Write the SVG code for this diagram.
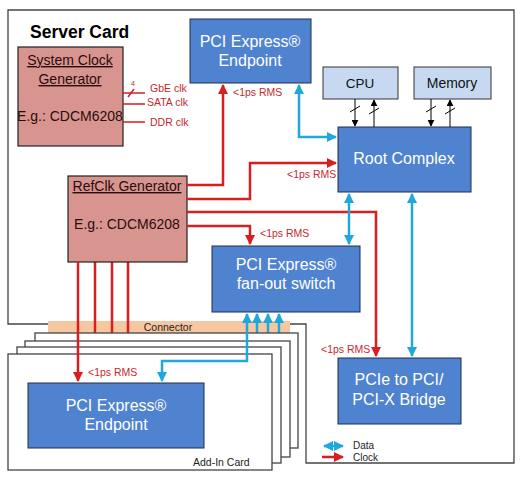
<svg xmlns="http://www.w3.org/2000/svg" width="532" height="482" viewBox="0 0 532 482">
<defs>
<marker id="ar" viewBox="0 0 10 10" refX="9" refY="5" markerWidth="4.4" markerHeight="4" orient="auto-start-reverse" markerUnits="strokeWidth"><path d="M0,0 L10,5 L0,10 z" fill="#d81e1e"/></marker>
<marker id="ab" viewBox="0 0 10 10" refX="9" refY="5" markerWidth="4.4" markerHeight="4" orient="auto-start-reverse" markerUnits="strokeWidth"><path d="M0,0 L10,5 L0,10 z" fill="#1ea8dc"/></marker>
<marker id="ak" viewBox="0 0 10 10" refX="9" refY="5" markerWidth="7" markerHeight="7" orient="auto-start-reverse" markerUnits="strokeWidth"><path d="M0,0 L10,5 L0,10 z" fill="#000"/></marker>
</defs>
<style>
text{font-family:"Liberation Sans",Arial,sans-serif}
.card{fill:#fff;stroke:#444;stroke-width:1.3}
.blue{fill:#4f83cf;stroke:#1f2f4a;stroke-width:1}
.lb{fill:#c6d9f1;stroke:#333;stroke-width:1}
.pink{fill:#d8958f;stroke:#222;stroke-width:1.2}
.wt{fill:#fff;font-size:16px;text-anchor:middle}
.pt{fill:#2a0c0c;font-size:14px;text-anchor:middle}
.rl{fill:#c8282d;font-size:10.5px}
.red{fill:none;stroke:#d81e1e;stroke-width:2.5}
.bl{fill:none;stroke:#1ea8dc;stroke-width:2.5}
.thin{fill:none;stroke:#000;stroke-width:1}
.rthin{fill:none;stroke:#d81e1e;stroke-width:1.5}
</style>
<rect width="532" height="482" fill="#fff"/>
<g id="server-card">
<path class="card" d="M8,10 H514 V463 H306 V324 H8 Z"/>
<text x="30" y="38" font-size="17.5" font-weight="bold" fill="#000">Server Card</text>
</g>
<g id="connector">
<rect x="48" y="321" width="242" height="12" fill="#f6c7a0"/>
<text x="168" y="331" font-size="10.5" fill="#222" text-anchor="middle">Connector</text>
</g>
<g id="connectors-under">
<line class="red" x1="128" y1="262" x2="128" y2="341"/>
<line class="red" x1="112" y1="262" x2="112" y2="347"/>
<line class="red" x1="95" y1="262" x2="95" y2="354"/>
<line class="bl" x1="279" y1="341" x2="279" y2="314" marker-end="url(#ab)"/>
<line class="bl" x1="268" y1="347" x2="268" y2="314" marker-end="url(#ab)"/>
<line class="bl" x1="257" y1="354" x2="257" y2="314" marker-end="url(#ab)"/>
</g>
<g id="add-in-cards">
<rect class="card" x="35" y="333" width="263" height="115"/>
<rect class="card" x="25" y="341" width="265" height="116"/>
<rect class="card" x="17" y="347" width="264" height="116"/>
<rect class="card" x="8" y="354" width="264" height="116"/>
<text x="193" y="466" font-size="10.5" fill="#222">Add-In Card</text>
</g>
<g id="sys-clk">
<rect class="pink" x="18" y="47" width="105" height="99"/>
<text class="pt" x="70" y="65" text-decoration="underline">System Clock</text>
<text class="pt" x="70" y="84" text-decoration="underline">Generator</text>
<text class="pt" x="70" y="121" font-size="12">E.g.: CDCM6208</text>
</g>
<g id="refclk">
<rect class="pink" x="68" y="176" width="119" height="86"/>
<text class="pt" x="127" y="191" text-decoration="underline">RefClk Generator</text>
<text class="pt" x="127" y="229" font-size="12">E.g.: CDCM6208</text>
</g>
<g id="endpoint-top">
<rect class="blue" x="190" y="19" width="121" height="64"/>
<text class="wt" x="250" y="47">PCI Express®</text>
<text class="wt" x="250" y="66">Endpoint</text>
</g>
<g id="cpu">
<rect class="lb" x="323" y="67" width="75" height="32"/>
<text x="360" y="88" font-size="13.5" text-anchor="middle" fill="#111">CPU</text>
</g>
<g id="memory">
<rect class="lb" x="414" y="67" width="77" height="32"/>
<text x="452" y="88" font-size="14" text-anchor="middle" fill="#111">Memory</text>
</g>
<g id="root-complex">
<rect class="blue" x="338" y="127" width="133" height="65"/>
<text class="wt" x="404" y="164">Root Complex</text>
</g>
<g id="fanout-switch">
<rect class="blue" x="212" y="246" width="148" height="66"/>
<text class="wt" x="286" y="270">PCI Express®</text>
<text class="wt" x="286" y="289">fan-out switch</text>
</g>
<g id="bridge">
<rect class="blue" x="338" y="358" width="123" height="66"/>
<text class="wt" x="399" y="385">PCIe to PCI/</text>
<text class="wt" x="399" y="405">PCI-X Bridge</text>
</g>
<g id="endpoint-addin">
<rect class="blue" x="28" y="383" width="176" height="65"/>
<text class="wt" x="116" y="411">PCI Express®</text>
<text class="wt" x="116" y="430">Endpoint</text>
</g>
<g id="connectors">
<path class="rthin" d="M123,93 H145 M123,104 H145 M123,122 H145"/>
<line class="rthin" x1="128" y1="97" x2="134" y2="89" stroke-width="1"/>
<text x="131" y="86" font-size="7" fill="#c8282d">4</text>
<text class="rl" x="150" y="92" font-size="9.5">GbE clk</text>
<text class="rl" x="147" y="106" font-size="9.5">SATA clk</text>
<text class="rl" x="150" y="126" font-size="9.5">DDR clk</text>

<path class="red" d="M187,185 H223 V85" marker-end="url(#ar)"/>
<path class="red" d="M187,199 H250 V163 H336" marker-end="url(#ar)"/>
<path class="red" d="M187,212 H376 V356" marker-end="url(#ar)"/>
<path class="red" d="M187,226 H250 V244" marker-end="url(#ar)"/>
<path class="red" d="M78,262 V381" marker-end="url(#ar)"/>
<text class="rl" x="233" y="96">&lt;1ps RMS</text>
<text class="rl" x="287" y="178">&lt;1ps RMS</text>
<text class="rl" x="260" y="237">&lt;1ps RMS</text>
<text class="rl" x="321" y="353">&lt;1ps RMS</text>
<text class="rl" x="88" y="376">&lt;1ps RMS</text>

<path class="bl" d="M299,85 V137 H336" marker-start="url(#ab)" marker-end="url(#ab)"/>
<path class="bl" d="M349,194 V244" marker-start="url(#ab)" marker-end="url(#ab)"/>
<path class="bl" d="M412,194 V356" marker-start="url(#ab)" marker-end="url(#ab)"/>
<path class="bl" d="M247,314 V361 H162 V381" marker-start="url(#ab)" marker-end="url(#ab)"/>

<line class="thin" x1="355" y1="99" x2="355" y2="126" marker-end="url(#ak)"/>
<line class="thin" x1="374" y1="127" x2="374" y2="100" marker-end="url(#ak)"/>
<line class="thin" x1="431" y1="99" x2="431" y2="126" marker-end="url(#ak)"/>
<line class="thin" x1="450" y1="127" x2="450" y2="100" marker-end="url(#ak)"/>
<path class="thin" d="M350,112 L360,106 M369,114 L379,108 M426,112 L436,106 M445,114 L455,108"/>
</g>
<g id="legend">
<line class="bl" x1="324" y1="446" x2="343" y2="446" stroke-width="2" marker-start="url(#ab)" marker-end="url(#ab)"/>
<line class="red" x1="322" y1="457" x2="343" y2="457" stroke-width="2" marker-end="url(#ar)"/>
<text x="353" y="449" font-size="10" fill="#222">Data</text>
<text x="353" y="461" font-size="10" fill="#222">Clock</text>
</g>
</svg>
